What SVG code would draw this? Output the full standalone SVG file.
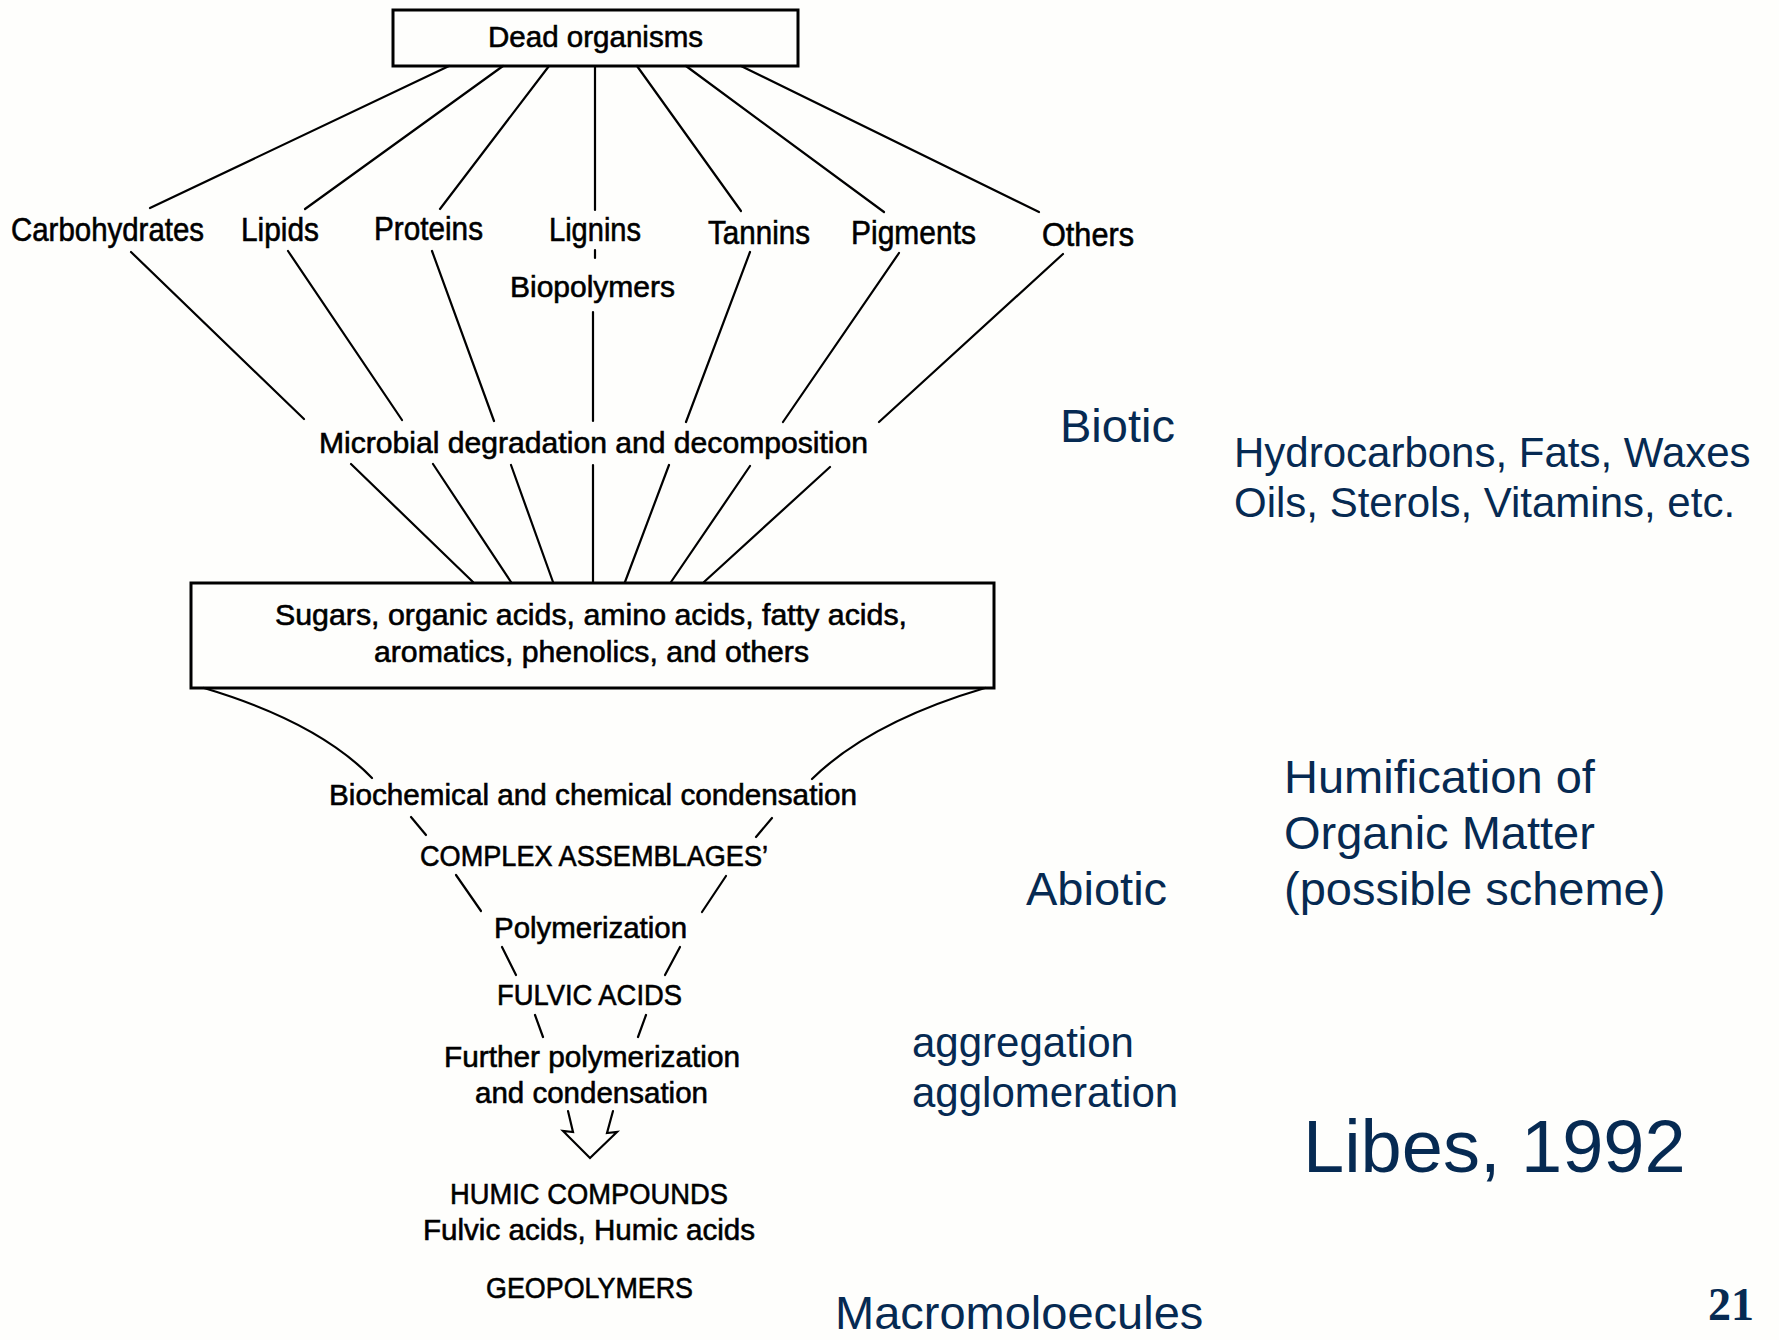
<svg xmlns="http://www.w3.org/2000/svg" width="1779" height="1340" viewBox="0 0 1779 1340">
<style>
.bg{fill:#fefefc}
.box{fill:none;stroke:#000;stroke-width:3}
.ln{fill:none;stroke:#000;stroke-width:2.2;stroke-linecap:round}
.t{font-family:"Liberation Sans",Arial,sans-serif;fill:#000;stroke:#000;stroke-width:0.6;font-size:30px}
.tl{font-size:33px}
.b{font-family:"Liberation Sans",Arial,sans-serif;fill:#062a52}
.n{font-family:"Liberation Serif","Times New Roman",serif;fill:#062a52;font-weight:bold;font-size:46px}
</style>
<rect class="bg" x="0" y="0" width="1779" height="1340"/>

<g id="connectors">
  <line class="ln" x1="449" y1="66" x2="150" y2="208"/>
  <line class="ln" x1="503" y1="66" x2="305" y2="209"/>
  <line class="ln" x1="549" y1="66" x2="440" y2="209"/>
  <line class="ln" x1="595" y1="66" x2="595" y2="210"/>
  <line class="ln" x1="637" y1="66" x2="741" y2="211"/>
  <line class="ln" x1="686" y1="66" x2="884" y2="212"/>
  <line class="ln" x1="741" y1="66" x2="1039" y2="212"/>

  <line class="ln" x1="595" y1="250" x2="595" y2="258"/>

  <line class="ln" x1="131" y1="252" x2="304" y2="419"/>
  <line class="ln" x1="288" y1="251" x2="402" y2="420"/>
  <line class="ln" x1="432" y1="251" x2="494" y2="421"/>
  <line class="ln" x1="593" y1="312" x2="593" y2="421"/>
  <line class="ln" x1="750" y1="252" x2="686" y2="422"/>
  <line class="ln" x1="899" y1="253" x2="783" y2="422"/>
  <line class="ln" x1="1063" y1="254" x2="879" y2="422"/>

  <line class="ln" x1="351" y1="464" x2="473" y2="582"/>
  <line class="ln" x1="433" y1="464" x2="511" y2="582"/>
  <line class="ln" x1="511" y1="465" x2="553" y2="582"/>
  <line class="ln" x1="593" y1="465" x2="593" y2="582"/>
  <line class="ln" x1="669" y1="465" x2="625" y2="582"/>
  <line class="ln" x1="750" y1="466" x2="671" y2="582"/>
  <line class="ln" x1="830" y1="467" x2="704" y2="582"/>

  <path class="ln" d="M204,688 Q318,722 372,778"/>
  <path class="ln" d="M985,688 Q870,722 812,779"/>

  <line class="ln" x1="411" y1="817" x2="426" y2="835"/>
  <line class="ln" x1="772" y1="818" x2="756" y2="837"/>
  <line class="ln" x1="456" y1="875" x2="481" y2="911"/>
  <line class="ln" x1="726" y1="876" x2="702" y2="912"/>
  <line class="ln" x1="502" y1="947" x2="516" y2="975"/>
  <line class="ln" x1="680" y1="947" x2="665" y2="975"/>
  <line class="ln" x1="535" y1="1015" x2="543" y2="1037"/>
  <line class="ln" x1="646" y1="1015" x2="638" y2="1037"/>

  <polyline class="ln" style="stroke-linejoin:miter" points="568,1111 573,1132 563,1131 590,1158 617,1132 607,1133 613,1111"/>
</g>

<g id="node-dead-organisms">
  <rect class="box" x="393" y="10" width="405" height="56"/>
  <text class="t" x="488" y="47" textLength="215" lengthAdjust="spacingAndGlyphs">Dead organisms</text>
</g>
<g id="node-carbohydrates"><text class="t tl" x="11" y="241" textLength="193" lengthAdjust="spacingAndGlyphs">Carbohydrates</text></g>
<g id="node-lipids"><text class="t tl" x="241" y="241" textLength="78" lengthAdjust="spacingAndGlyphs">Lipids</text></g>
<g id="node-proteins"><text class="t tl" x="374" y="240" textLength="109" lengthAdjust="spacingAndGlyphs">Proteins</text></g>
<g id="node-lignins"><text class="t tl" x="549" y="241" textLength="92" lengthAdjust="spacingAndGlyphs">Lignins</text></g>
<g id="node-tannins"><text class="t tl" x="708" y="244" textLength="102" lengthAdjust="spacingAndGlyphs">Tannins</text></g>
<g id="node-pigments"><text class="t tl" x="851" y="244" textLength="125" lengthAdjust="spacingAndGlyphs">Pigments</text></g>
<g id="node-others"><text class="t tl" x="1042" y="246" textLength="92" lengthAdjust="spacingAndGlyphs">Others</text></g>
<g id="node-biopolymers"><text class="t" x="510" y="297" textLength="165" lengthAdjust="spacingAndGlyphs">Biopolymers</text></g>
<g id="node-microbial"><text class="t" x="319" y="453" textLength="549" lengthAdjust="spacingAndGlyphs">Microbial degradation and decomposition</text></g>
<g id="node-sugars">
  <rect class="box" x="191" y="583" width="803" height="105"/>
  <text class="t" x="275" y="625" textLength="632" lengthAdjust="spacingAndGlyphs">Sugars, organic acids, amino acids, fatty acids,</text>
  <text class="t" x="374" y="662" textLength="435" lengthAdjust="spacingAndGlyphs">aromatics, phenolics, and others</text>
</g>
<g id="node-condensation"><text class="t" x="329" y="805" textLength="528" lengthAdjust="spacingAndGlyphs">Biochemical and chemical condensation</text></g>
<g id="node-complex"><text class="t" x="420" y="866" textLength="348" lengthAdjust="spacingAndGlyphs">COMPLEX ASSEMBLAGES’</text></g>
<g id="node-polymerization"><text class="t" x="494" y="938" textLength="193" lengthAdjust="spacingAndGlyphs">Polymerization</text></g>
<g id="node-fulvic"><text class="t" x="497" y="1005" textLength="185" lengthAdjust="spacingAndGlyphs">FULVIC ACIDS</text></g>
<g id="node-further">
  <text class="t" x="444" y="1067" textLength="296" lengthAdjust="spacingAndGlyphs">Further polymerization</text>
  <text class="t" x="475" y="1103" textLength="233" lengthAdjust="spacingAndGlyphs">and condensation</text>
</g>
<g id="node-humic">
  <text class="t" x="450" y="1204" textLength="278" lengthAdjust="spacingAndGlyphs">HUMIC COMPOUNDS</text>
  <text class="t" x="423" y="1240" textLength="332" lengthAdjust="spacingAndGlyphs">Fulvic acids, Humic acids</text>
  <text class="t" x="486" y="1298" textLength="207" lengthAdjust="spacingAndGlyphs">GEOPOLYMERS</text>
</g>

<g id="annotations">
  <text class="b" x="1060" y="442" font-size="47">Biotic</text>
  <text class="b" x="1234" y="467" font-size="42">Hydrocarbons, Fats, Waxes</text>
  <text class="b" x="1234" y="517" font-size="42">Oils, Sterols, Vitamins, etc.</text>
  <text class="b" x="1284" y="793" font-size="47">Humification of</text>
  <text class="b" x="1284" y="849" font-size="47">Organic Matter</text>
  <text class="b" x="1284" y="905" font-size="47">(possible scheme)</text>
  <text class="b" x="1026" y="905" font-size="47">Abiotic</text>
  <text class="b" x="912" y="1057" font-size="42">aggregation</text>
  <text class="b" x="912" y="1107" font-size="42">agglomeration</text>
  <text class="b" x="1303" y="1172" font-size="74">Libes, 1992</text>
  <text class="b" x="835" y="1329" font-size="47">Macromoloecules</text>
  <text class="n" x="1708" y="1320">21</text>
</g>
</svg>
